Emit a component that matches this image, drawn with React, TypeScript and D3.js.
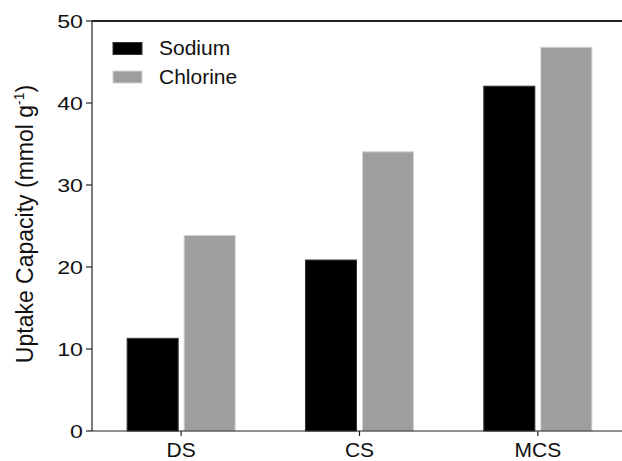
import React from "react";
import * as d3 from "d3";

const categories = ["DS", "CS", "MCS"];
const seriesNames = ["Sodium", "Chlorine"];
const sodium = [11.3, 20.85, 42.05];
const chlorine = [23.85, 34.05, 46.8];
const yTicks = [0, 10, 20, 30, 40, 50];
const colors = ["#000000", "#9e9e9e"];
const strokes = ["#333333", "#d4d4d4"];

export default function App() {
  const W = 622, H = 461;
  const left = 92, right = 627, top = 21, bottom = 431;
  const x = d3.scaleBand<string>().domain(categories).range([left, right]).paddingInner(0.394).paddingOuter(0.197);
  const xs = d3.scaleBand<string>().domain(seriesNames).range([0, x.bandwidth()]).paddingInner(0.105);
  const y = d3.scaleLinear().domain([0, 50]).range([bottom, top]);
  const values = [sodium, chlorine];
  const font = "'Liberation Sans', Arial, sans-serif";
  return (
    <svg width={W} height={H} style={{ position: "absolute", left: 0, top: 0, background: "#fff" }} fontFamily={font}>
      {seriesNames.map((s, si) =>
        categories.map((c, ci) => {
          const v = values[si][ci];
          return (
            <rect key={s + c} x={(x(c) as number) + (xs(s) as number)} y={y(v)} width={xs.bandwidth()} height={y(0) - y(v)}
              fill={colors[si]} stroke={strokes[si]} strokeWidth={1} />
          );
        })
      )}
      <line x1={left} x2={right} y1={top} y2={top} stroke="#222" strokeWidth={1.8} />
      <line x1={left} x2={right} y1={bottom} y2={bottom} stroke="#222" strokeWidth={1.2} />
      <line x1={left} x2={left} y1={top} y2={bottom} stroke="#222" strokeWidth={1.2} />
      {yTicks.map((t) => (
        <g key={t}>
          <line x1={left - 6} x2={left} y1={y(t)} y2={y(t)} stroke="#222" strokeWidth={1.2} />
          <g transform={`translate(${left - 9},${y(t)}) scale(1.22,1)`}>
            <text x={0} y={0} dy="0.35em" textAnchor="end" fontSize={19} fill="#111">{t}</text>
          </g>
        </g>
      ))}
      {categories.map((c) => {
        const cx = (x(c) as number) + x.bandwidth() / 2;
        return (
          <g key={c}>
            <line x1={cx} x2={cx} y1={bottom} y2={bottom + 5} stroke="#222" strokeWidth={1.2} />
            <text x={cx} y={bottom + 26} textAnchor="middle" fontSize={21} fill="#111">{c}</text>
          </g>
        );
      })}
      <text transform={`translate(33,224) rotate(-90)`} textAnchor="middle" fontSize={23} fill="#111">
        Uptake Capacity (mmol g<tspan fontSize={14} dy={-9}>-1</tspan><tspan dy={9}>)</tspan>
      </text>
      {seriesNames.map((s, i) => (
        <g key={s} transform={`translate(113,${42.5 + i * 28.5})`}>
          <rect x={0} y={0} width={29} height={12} fill={colors[i]} stroke={strokes[i]} strokeWidth={1} />
          <text x={46} y={12.5} fontSize={21} fill="#111">{s}</text>
        </g>
      ))}
    </svg>
  );
}
